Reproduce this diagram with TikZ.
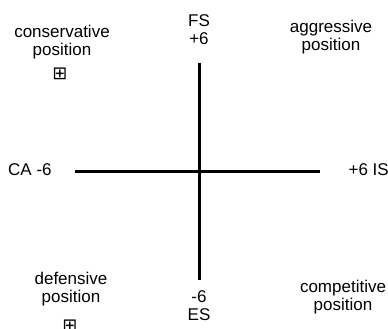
\documentclass[tikz,border=0pt]{standalone}
\usepackage{fontspec}
\setmainfont{Liberation Sans}
\newfontfamily\symfont{DejaVu Sans}
\begin{document}
\begin{tikzpicture}[x=1pt,y=-1pt,
  lbl/.style={inner sep=0pt,align=center,anchor=base,font=\fontsize{17}{18}\selectfont},
  axis/.style={line width=3pt},
  mark box/.style={inner sep=0pt,font=\symfont\fontsize{18}{18}\selectfont}]
\useasboundingbox (0,0) rectangle (388,329);
\coordinate (top) at (199,63);
\coordinate (bot) at (199,280);
\coordinate (lft) at (75,171);
\coordinate (rgt) at (320,171);
\draw[axis] (top) -- (bot);
\draw[axis] (lft) -- (rgt);
\node[lbl] (fs) at (199,45) {FS\\+6};
\node[lbl] (es) at (199,320) {-6\\ES};
\node[lbl,anchor=base west] (ca) at (8,175) {CA -6};
\node[lbl,anchor=base east] (is) at (389,175) {+6 IS};
\node[lbl] (cons) at (62,56) {conservative\\position};
\node[lbl] (aggr) at (331,51) {aggressive\\position};
\node[lbl] (def) at (71,302) {defensive\\position};
\node[lbl] (comp) at (343,310) {competitive\\position};
\node[mark box] (m1) at (60,74) {⊞};
\node[mark box] (m2) at (70,326) {⊞};
\end{tikzpicture}
\end{document}
